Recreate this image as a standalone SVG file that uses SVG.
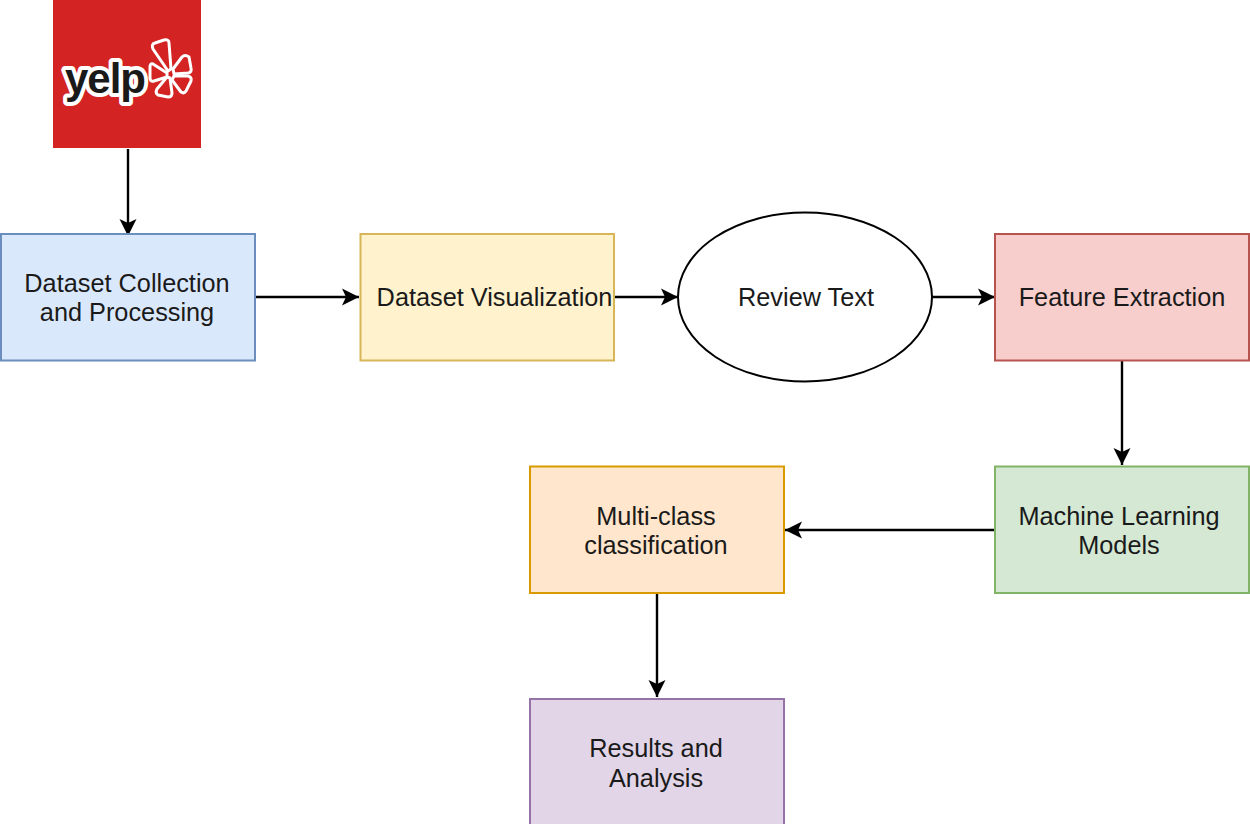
<svg xmlns="http://www.w3.org/2000/svg" width="1250" height="824" viewBox="0 0 1250 824">
<style>
text{font-family:"Liberation Sans",Arial,sans-serif;font-size:25.300px;fill:#1a1a1a;text-anchor:middle}
.b{stroke-width:2}
.c{fill:none;stroke:#000;stroke-width:2.400}
.p{fill:#d32323;stroke:#fff;stroke-width:3;stroke-linejoin:round}
</style>
<defs><marker id="a" markerUnits="userSpaceOnUse" markerWidth="20" markerHeight="20" refX="17" refY="10" orient="auto"><path d="M0 1.500L17 10L0 18.500L4 10Z" fill="#000"/></marker></defs>
<rect width="1250" height="824" fill="#fff"/>
<g id="connectors">
<path class="c" marker-end="url(#a)" d="M128 149V236"/>
<path class="c" marker-end="url(#a)" d="M255 297H359"/>
<path class="c" marker-end="url(#a)" d="M614 297H678"/>
<path class="c" marker-end="url(#a)" d="M932 297H995"/>
<path class="c" marker-end="url(#a)" d="M1122 361V465"/>
<path class="c" marker-end="url(#a)" d="M995 530H785"/>
<path class="c" marker-end="url(#a)" d="M657 594V697"/>
</g>
<g id="yelp">
<rect x="53" y="0" width="148" height="148" fill="#d32323"/>
<text x="105" y="93" style="font-size:42px;font-weight:bold;letter-spacing:-1px;fill:#1a1a1a;stroke:#fff;stroke-width:8px;paint-order:stroke;stroke-linejoin:round">yelp</text>
<path class="p" d="M168 71L153 49Q151 44 155 43L164 40Q169 39 169 43L171 69Z"/>
<path class="p" d="M173 69L182 57Q185 54 189 57L191 68Q192 72 188 73L174 74Z"/>
<path class="p" d="M174 76L188 76Q192 77 191 81L186 91Q184 94 181 92L172 80Z"/>
<path class="p" d="M170 78L172 93Q172 97 168 97L158 95Q155 93 157 89L167 77Z"/>
<path class="p" d="M167 73L153 64Q150 63 150 67L150 78Q150 82 154 81L167 77Z"/>
</g>
<g id="dataset-collection">
<rect class="b" x="1" y="234" width="254" height="126.500" fill="#dae8fc" stroke="#6c8ebf"/>
<text x="127" y="292">Dataset Collection</text><text x="127" y="321">and Processing</text>
</g>
<g id="dataset-visualization">
<rect class="b" x="360.500" y="234" width="253.500" height="126.500" fill="#fff2cc" stroke="#d6b656"/>
<text x="494.500" y="306">Dataset Visualization</text>
</g>
<g id="review-text">
<ellipse class="b" cx="805" cy="297" rx="127" ry="84.500" fill="#fff" stroke="#000"/>
<text x="806" y="306">Review Text</text>
</g>
<g id="feature-extraction">
<rect class="b" x="995" y="234" width="254" height="126.500" fill="#f8cecc" stroke="#b85450"/>
<text x="1122" y="306">Feature Extraction</text>
</g>
<g id="machine-learning">
<rect class="b" x="995" y="466.500" width="254" height="126.500" fill="#d5e8d4" stroke="#82b366"/>
<text x="1119" y="524.500">Machine Learning</text><text x="1119" y="553.500">Models</text>
</g>
<g id="multi-class">
<rect class="b" x="530" y="466.500" width="254" height="126.500" fill="#ffe6cc" stroke="#d79b00"/>
<text x="656" y="524.500">Multi-class</text><text x="656" y="553.500">classification</text>
</g>
<g id="results">
<rect class="b" x="530" y="699" width="254" height="126.500" fill="#e1d5e7" stroke="#9673a6"/>
<text x="656" y="757">Results and</text><text x="656" y="786.500">Analysis</text>
</g>
</svg>
